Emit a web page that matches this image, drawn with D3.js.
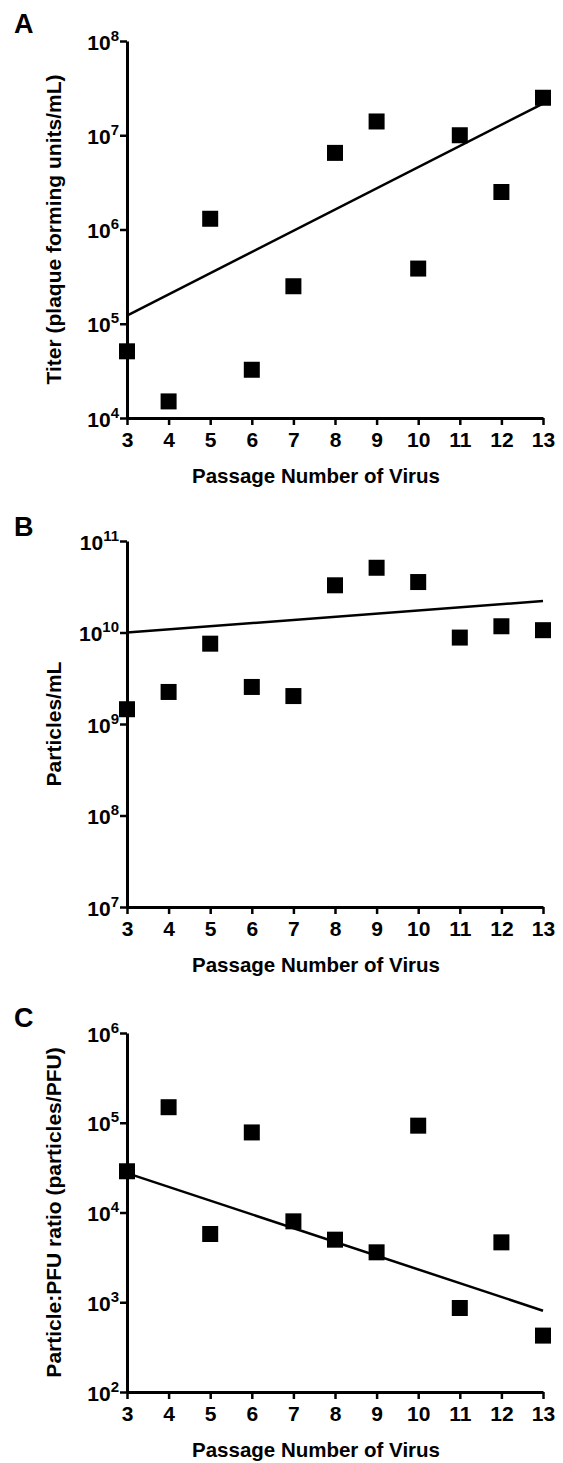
<!DOCTYPE html>
<html>
<head>
<meta charset="utf-8">
<script src="https://cdn.jsdelivr.net/npm/d3@7"></script>
<style>
  body { margin: 0; background: #fff; }
  svg { display: block; font-family: "Liberation Sans", Arial, sans-serif; font-weight: bold; }
</style>
</head>
<body>
<div id="chart"></div>
<script>
// passage numbers shared by all three panels
const passages = [3, 4, 5, 6, 7, 8, 9, 10, 11, 12, 13];

// A: titer (PFU/mL)
const titer = [5.1e4, 1.5e4, 1.3e6, 3.25e4, 2.5e5, 6.5e6, 1.4e7, 3.85e5, 1.0e7, 2.5e6, 2.5e7];
// B: particles/mL
const particles = [1.45e9, 2.24e9, 7.55e9, 2.54e9, 2.02e9, 3.28e10, 5.1e10, 3.56e10, 8.8e9, 1.17e10, 1.06e10];
// C: particle:PFU ratio
const ratio = [2.88e4, 1.49e5, 5.76e3, 7.8e4, 7.97e3, 4.98e3, 3.6e3, 9.28e4, 863, 4.65e3, 425];

// fitted lines, value at passage 3 and passage 13
const fitX = [3, 13];
const fitTiter = [1.22e5, 2.17e7];
const fitParticles = [1.0e10, 2.21e10];
const fitRatio = [2.75e4, 805];

const expA = [4, 5, 6, 7, 8];
const expB = [7, 8, 9, 10, 11];
const expC = [2, 3, 4, 5, 6];

const xTitle = "Passage Number of Virus";

const W = 563, H = 1463;
const svg = d3.select("#chart").append("svg")
  .attr("width", W).attr("height", H);

const panels = [
  { letter: "A", ys: titer, fit: fitTiter, exps: expA, yTitle: "Titer (plaque forming units/mL)",
    top: 41, bottom: 418, letterY: 33 },
  { letter: "B", ys: particles, fit: fitParticles, exps: expB, yTitle: "Particles/mL",
    top: 541, bottom: 907, letterY: 536 },
  { letter: "C", ys: ratio, fit: fitRatio, exps: expC, yTitle: "Particle:PFU ratio (particles/PFU)",
    top: 1033, bottom: 1392, letterY: 1027 }
];

const left = 127, right = 543;
const x = d3.scaleLinear().domain([3, 13]).range([left, right]);

panels.forEach(p => {
  const g = svg.append("g");
  const y = d3.scaleLog()
    .domain([Math.pow(10, p.exps[0]), Math.pow(10, p.exps[p.exps.length - 1])])
    .range([p.bottom, p.top]);

  g.append("text")
    .attr("x", 14).attr("y", p.letterY)
    .attr("font-size", 27)
    .text(p.letter);

  // x axis
  const xa = g.append("g")
    .attr("transform", `translate(0,${p.bottom})`)
    .call(d3.axisBottom(x).tickValues(passages).tickSize(7).tickSizeOuter(0).tickFormat(d3.format("d")));
  xa.select(".domain").attr("stroke-width", 3);
  xa.selectAll(".tick line").attr("stroke-width", 2.5);
  xa.selectAll(".tick text")
    .attr("font-size", 21).attr("font-family", null)
    .attr("y", 29).attr("dy", null);

  // y axis
  const ya = g.append("g")
    .attr("transform", `translate(${left},0)`)
    .call(d3.axisLeft(y).tickValues(p.exps.map(e => Math.pow(10, e))).tickSize(7).tickSizeOuter(0).tickFormat(""));
  ya.select(".domain").attr("stroke-width", 3);
  ya.selectAll(".tick line").attr("stroke-width", 2.5);
  ya.selectAll(".tick text").remove();
  ya.selectAll(".tick").each(function (d) {
    const t = d3.select(this).append("text")
      .attr("x", -8).attr("y", 8)
      .attr("text-anchor", "end")
      .attr("fill", "#000")
      .attr("font-size", 21);
    t.append("tspan").text("10");
    t.append("tspan").attr("font-size", 15).attr("dy", -9).text(String(Math.round(Math.log10(d))));
  });

  // axis titles
  g.append("text")
    .attr("x", 316).attr("y", p.bottom + 65)
    .attr("text-anchor", "middle")
    .attr("font-size", 20.5)
    .text(xTitle);

  g.append("text")
    .attr("transform", `translate(61,${(p.top + p.bottom) / 2}) rotate(-90)`)
    .attr("text-anchor", "middle")
    .attr("font-size", 21)
    .text(p.yTitle);

  // fit line
  g.append("path")
    .datum(fitX.map((d, i) => [d, p.fit[i]]))
    .attr("fill", "none")
    .attr("stroke", "#000")
    .attr("stroke-width", 2.5)
    .attr("d", d3.line().x(d => x(d[0])).y(d => y(d[1])));

  // points
  const s = 16;
  g.append("g").selectAll("rect")
    .data(passages.map((d, i) => [d, p.ys[i]]))
    .join("rect")
    .attr("x", d => x(d[0]) - s / 2)
    .attr("y", d => y(d[1]) - s / 2)
    .attr("width", s).attr("height", s)
    .attr("fill", "#000");
});
</script>
</body>
</html>
